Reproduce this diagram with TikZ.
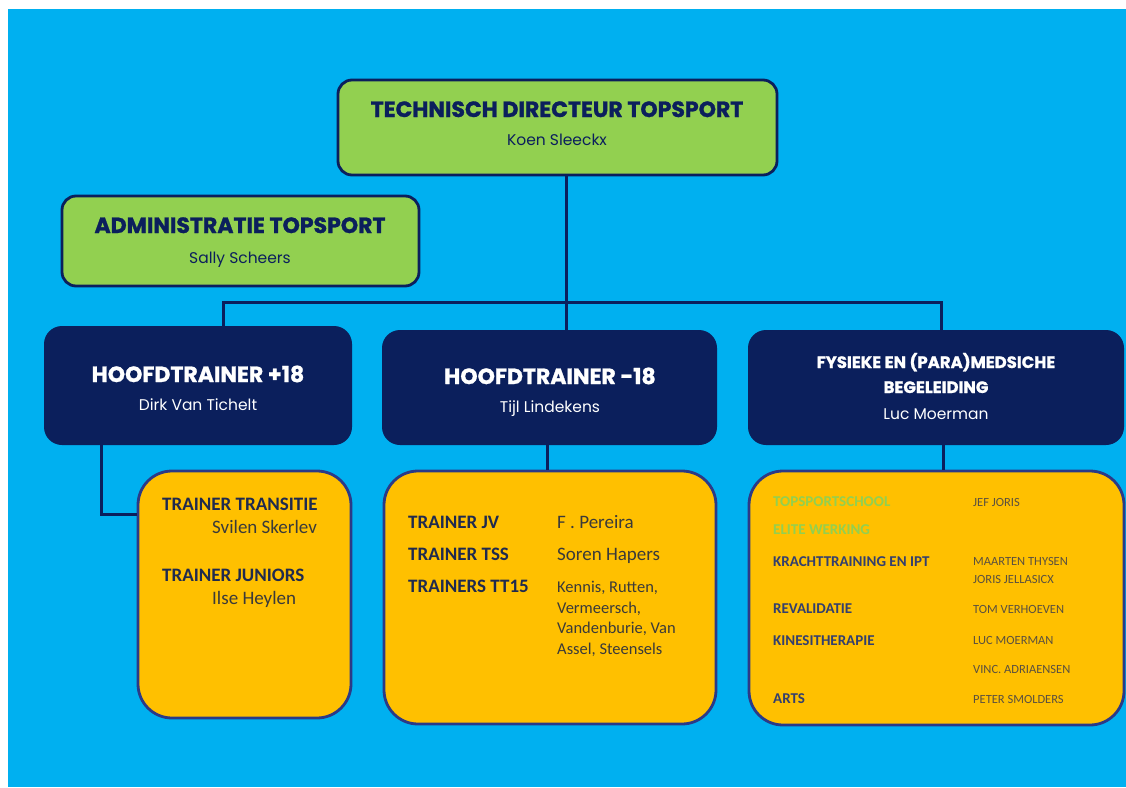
\documentclass[tikz,border=0pt]{standalone}
\usepackage{fontspec}
\setmainfont{Poppins}[BoldFeatures={FakeBold=1.2}]
\newfontfamily\calfont{Carlito}
\usetikzlibrary{positioning}

\definecolor{skyblue}{HTML}{00B0F0}
\definecolor{leafgreen}{HTML}{92D050}
\definecolor{navy}{HTML}{0B1F5C}
\definecolor{gold}{HTML}{FFC000}
\definecolor{goldline}{HTML}{2B3A87}
\definecolor{inkdark}{HTML}{1F2A4F}
\definecolor{inkrole}{HTML}{333F6E}
\definecolor{inkname}{HTML}{3A3A3A}
\definecolor{inksoft}{HTML}{5A5040}

\begin{document}
\begin{tikzpicture}[
    x=1pt, y=-1pt,
    greenbox/.style={draw=navy, line width=2.8pt, fill=leafgreen, rounded corners=14pt, inner sep=0pt},
    navybox/.style={fill=navy, rounded corners=18pt, inner sep=0pt},
    goldbox/.style={draw=goldline, line width=2.8pt, fill=gold, rounded corners=34pt, inner sep=0pt},
    link/.style={draw=navy, line width=3pt},
    boxhead/.style={anchor=base, inner sep=0pt, font=\bfseries\fontsize{22}{26}\selectfont},
    boxname/.style={anchor=base, inner sep=0pt, font=\fontsize{15.5}{19}\selectfont},
    role/.style={anchor=base west, inner sep=0pt, text=inkdark, font=\calfont\bfseries\fontsize{19}{23}\selectfont},
    who/.style={anchor=base west, inner sep=0pt, text=inkname, font=\calfont\fontsize{19}{23}\selectfont},
    smallrole/.style={anchor=base west, inner sep=0pt, text=inkrole, font=\calfont\bfseries\fontsize{15}{18}\selectfont},
    smallwho/.style={anchor=base west, inner sep=0pt, text=inksoft, font=\calfont\fontsize{12.5}{15}\selectfont},
]
    \useasboundingbox (0,0) rectangle (1126,787);
    \fill[white] (0,0) rectangle (1126,787);
    \fill[skyblue] (8,9) rectangle (1126,787);

    % boxes
    \node[greenbox, minimum width=439pt, minimum height=95pt] (td) at (557.5,127.5) {};
    \node[greenbox, minimum width=357pt, minimum height=90pt] (adm) at (240.5,241) {};
    \node[navybox, minimum width=308pt, minimum height=119pt] (hplus) at (198,385.5) {};
    \node[navybox, minimum width=335pt, minimum height=115pt] (hmin) at (549.5,387.5) {};
    \node[navybox, minimum width=376pt, minimum height=115pt] (fys) at (936,387.5) {};
    \node[goldbox, minimum width=213pt, minimum height=247pt] (gplus) at (244.5,594.5) {};
    \node[goldbox, minimum width=332pt, minimum height=253pt] (gmin) at (550,597.5) {};
    \node[goldbox, minimum width=375pt, minimum height=254pt] (gfys) at (936.5,598) {};

    % connectors
    \coordinate (busL) at (223,302);
    \coordinate (busM) at (566,302);
    \coordinate (busR) at (941,302);
    \coordinate (elbow) at (101,514);
    \draw[link] (busM |- td.south) -- (busM |- hmin.north);
    \draw[link] (busL |- hplus.north) -- (busL) -- (busR) -- (busR |- fys.north);
    \draw[link] (elbow |- hplus.south) -- (elbow) -- (elbow -| gplus.west);
    \draw[link] ([xshift=-2.5pt]hmin.south) -- ([xshift=-2.5pt]hmin.south |- gmin.north);
    \draw[link] ([xshift=7pt]fys.south) -- ([xshift=7pt]fys.south |- gfys.north);

    % titles
    \node[boxhead, text=navy] (tdtitle) at (557,117) {TECHNISCH DIRECTEUR TOPSPORT};
    \node[boxname, text=navy] (tdname) at (557,145) {Koen Sleeckx};
    \node[boxhead, text=navy] (admtitle) at (240,233) {ADMINISTRATIE TOPSPORT};
    \node[boxname, text=navy] (admname) at (240,263) {Sally Scheers};
    \node[boxhead, text=white] (hplustitle) at (198,382) {HOOFDTRAINER +18};
    \node[boxname, text=white] (hplusname) at (198,410) {Dirk Van Tichelt};
    \node[boxhead, text=white] (hmintitle) at (550,384) {HOOFDTRAINER -18};
    \node[boxname, text=white] (hminname) at (550,412) {Tijl Lindekens};
    \node[boxhead, text=white, font=\bfseries\fontsize{16.5}{19}\selectfont] (fystitle) at (936,368) {FYSIEKE EN (PARA)MEDSICHE};
    \node[boxhead, text=white, font=\bfseries\fontsize{16.5}{19}\selectfont] (fystitleb) at (936,393) {BEGELEIDING};
    \node[boxname, text=white] (fysname) at (936,419) {Luc Moerman};

    % trainers +18
    \node[role] (transitie) at (162,510) {TRAINER TRANSITIE};
    \node[who] (svilen) at (212,533) {Svilen Skerlev};
    \node[role] (juniors) at (162,581) {TRAINER JUNIORS};
    \node[who] (ilse) at (212,604) {Ilse Heylen};

    % trainers -18
    \node[role] (jv) at (408,528) {TRAINER JV};
    \node[role] (tss) at (408,560) {TRAINER TSS};
    \node[role] (tt15) at (408,592) {TRAINERS TT15};
    \node[who] (pereira) at (557,528) {F . Pereira};
    \node[who] (hapers) at (557,560) {Soren Hapers};
    \node[who, font=\calfont\fontsize{16.5}{20.7}\selectfont, align=left, anchor=north west] (tt15names) at (557,581)
        {Kennis, Rutten,\\Vermeersch,\\Vandenburie, Van\\Assel, Steensels};

    % begeleiding
    \node[smallrole, text=leafgreen] (school) at (773,506) {TOPSPORTSCHOOL};
    \node[smallrole, text=leafgreen] (elite) at (773,534) {ELITE WERKING};
    \node[smallrole] (kracht) at (773,566) {KRACHTTRAINING EN IPT};
    \node[smallrole] (reva) at (773,613) {REVALIDATIE};
    \node[smallrole] (kine) at (773,645) {KINESITHERAPIE};
    \node[smallrole] (arts) at (773,703) {ARTS};
    \node[smallwho] (jef) at (973,506) {JEF JORIS};
    \node[smallwho] (maarten) at (973,565) {MAARTEN THYSEN};
    \node[smallwho] (joris) at (973,583) {JORIS JELLASICX};
    \node[smallwho] (tom) at (973,613) {TOM VERHOEVEN};
    \node[smallwho] (luc) at (973,644) {LUC MOERMAN};
    \node[smallwho] (vinc) at (973,673) {VINC. ADRIAENSEN};
    \node[smallwho] (peter) at (973,703) {PETER SMOLDERS};
\end{tikzpicture}
\end{document}
